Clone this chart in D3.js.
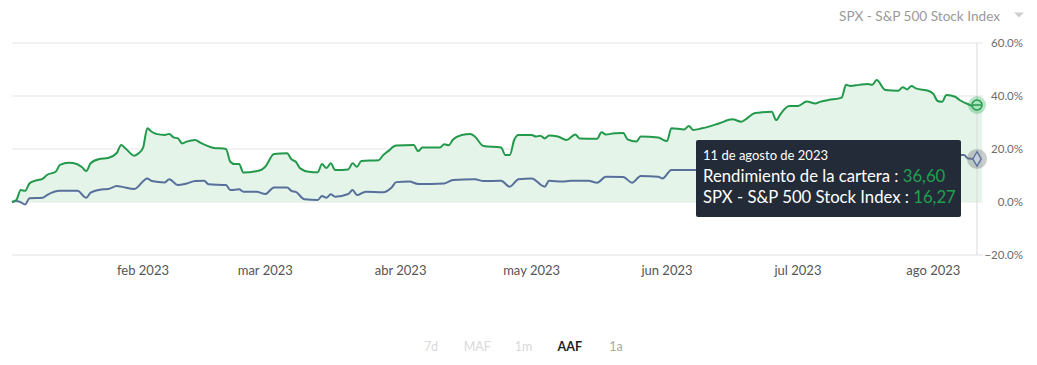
<!DOCTYPE html>
<html lang="es">
<head>
<meta charset="utf-8">
<script src="https://cdn.jsdelivr.net/npm/d3@7"></script>
<style>
    html, body { margin: 0; padding: 0; background: #fff; }
    #chart { width: 1037px; height: 365px; }
    text { font-family: Lato, 'Open Sans', sans-serif; }
</style>
</head>
<body>
<div id="chart"></div>
<script>
// rendimiento de la cartera (% desde el inicio del año)
const portDates = ['2023-01-02','2023-01-03','2023-01-04','2023-01-05','2023-01-06','2023-01-07','2023-01-09','2023-01-10','2023-01-12','2023-01-13',
    '2023-01-15','2023-01-16','2023-01-18','2023-01-19','2023-01-20','2023-01-22','2023-01-24','2023-01-26','2023-01-27','2023-01-28',
    '2023-01-30','2023-01-31','2023-02-01','2023-02-02','2023-02-03','2023-02-04','2023-02-06','2023-02-07','2023-02-08','2023-02-09',
    '2023-02-10','2023-02-11','2023-02-13','2023-02-14','2023-02-17','2023-02-20','2023-02-21','2023-02-22','2023-02-23','2023-02-24',
    '2023-02-28','2023-03-01','2023-03-03','2023-03-06','2023-03-07','2023-03-08','2023-03-09','2023-03-11','2023-03-13','2023-03-14',
    '2023-03-15','2023-03-16','2023-03-17','2023-03-20','2023-03-21','2023-03-22','2023-03-23','2023-03-27','2023-03-28','2023-03-29',
    '2023-03-31','2023-04-04','2023-04-05','2023-04-06','2023-04-10','2023-04-11','2023-04-12','2023-04-13','2023-04-15','2023-04-17',
    '2023-04-18','2023-04-20','2023-04-24','2023-04-25','2023-04-26','2023-04-27','2023-04-28','2023-05-01','2023-05-02','2023-05-03',
    '2023-05-04','2023-05-05','2023-05-07','2023-05-09','2023-05-11','2023-05-12','2023-05-16','2023-05-17','2023-05-18','2023-05-20',
    '2023-05-22','2023-05-23','2023-05-25','2023-05-26','2023-05-30','2023-06-01','2023-06-02','2023-06-05','2023-06-06','2023-06-07',
    '2023-06-09','2023-06-13','2023-06-16','2023-06-18','2023-06-19','2023-06-21','2023-06-22','2023-06-25','2023-06-26','2023-06-27',
    '2023-06-29','2023-07-01','2023-07-03','2023-07-05','2023-07-06','2023-07-08','2023-07-11','2023-07-12','2023-07-13','2023-07-15',
    '2023-07-17','2023-07-18','2023-07-19','2023-07-21','2023-07-24','2023-07-25','2023-07-26','2023-07-27','2023-07-28','2023-07-31',
    '2023-08-01','2023-08-02','2023-08-03','2023-08-04','2023-08-06','2023-08-07','2023-08-09','2023-08-10','2023-08-11'];
const portValues = [0, 0.8, 4.5, 4.2, 7.0, 7.9, 8.7, 10.2, 11.4, 14.0,
    14.8, 14.7, 13.2, 11.7, 14.6, 16.2, 16.6, 18.5, 21.5, 20.2,
    17.5, 18.4, 20.4, 27.8, 26.5, 25.7, 25.3, 25.7, 24.4, 24.0,
    22.1, 22.8, 23.4, 22.5, 20.5, 20.0, 15.2, 14.3, 14.3, 11.1,
    12.1, 13.3, 18.1, 18.4, 16.1, 15.2, 12.7, 11.4, 11.2, 14.3,
    12.8, 14.6, 12.1, 12.3, 14.6, 13.3, 15.5, 15.8, 17.7, 19.0,
    21.3, 21.5, 19.2, 20.6, 20.6, 21.8, 21.4, 23.6, 25.3, 25.7,
    24.7, 21.1, 20.6, 17.7, 17.7, 23.4, 25.3, 25.3, 24.7, 25.0,
    24.0, 25.1, 24.7, 23.4, 25.5, 24.0, 23.9, 26.3, 25.5, 25.9,
    26.0, 23.6, 22.8, 24.7, 24.3, 23.0, 27.8, 27.4, 28.7, 27.2,
    27.8, 29.7, 31.2, 30.3, 31.2, 33.5, 33.7, 34.1, 30.9, 33.2,
    36.2, 36.2, 37.9, 37.2, 37.8, 38.5, 39.4, 44.2, 43.8, 44.2,
    44.5, 44.2, 46.0, 42.3, 42.0, 43.3, 42.5, 43.8, 42.9, 41.9,
    40.8, 38.1, 37.8, 40.4, 39.7, 38.5, 36.9, 36.3, 36.60];

// SPX - S&P 500 Stock Index (% desde el inicio del año)
const spxDates = ['2023-01-02','2023-01-03','2023-01-04','2023-01-05','2023-01-06','2023-01-09','2023-01-10','2023-01-13','2023-01-17','2023-01-19',
    '2023-01-20','2023-01-23','2023-01-24','2023-01-26','2023-01-27','2023-01-30','2023-02-02','2023-02-03','2023-02-06','2023-02-07',
    '2023-02-09','2023-02-11','2023-02-13','2023-02-15','2023-02-16','2023-02-20','2023-02-21','2023-02-23','2023-02-24','2023-02-27',
    '2023-03-01','2023-03-03','2023-03-06','2023-03-07','2023-03-08','2023-03-10','2023-03-13','2023-03-14','2023-03-15','2023-03-16',
    '2023-03-17','2023-03-20','2023-03-21','2023-03-22','2023-03-24','2023-03-28','2023-03-30','2023-03-31','2023-04-03','2023-04-05',
    '2023-04-11','2023-04-13','2023-04-18','2023-04-20','2023-04-24','2023-04-26','2023-04-28','2023-05-01','2023-05-04','2023-05-05',
    '2023-05-08','2023-05-10','2023-05-14','2023-05-16','2023-05-18','2023-05-22','2023-05-24','2023-05-26','2023-05-30','2023-05-31',
    '2023-06-02','2023-06-07','2023-06-09','2023-06-13','2023-06-15','2023-06-16','2023-06-20','2023-06-23','2023-06-26','2023-06-27',
    '2023-06-30','2023-07-03','2023-07-07','2023-07-11','2023-07-13','2023-07-19','2023-07-21','2023-07-25','2023-07-27','2023-07-31',
    '2023-08-02','2023-08-04','2023-08-07','2023-08-08','2023-08-09','2023-08-11'];
const spxValues = [0, 0.4, -0.1, -0.9, 1.4, 1.6, 2.6, 4.2, 4.2, 1.6,
    3.5, 4.8, 4.9, 6.0, 5.8, 4.9, 8.9, 7.9, 7.4, 8.6,
    6.4, 7.0, 7.9, 8.0, 6.7, 6.4, 4.5, 4.8, 3.9, 3.9,
    3.0, 5.5, 5.5, 4.2, 3.8, 1.0, 0.75, 2.3, 1.6, 2.9,
    2.0, 3.0, 4.5, 2.6, 3.9, 3.7, 5.6, 7.5, 7.7, 6.8,
    7.0, 8.3, 8.6, 7.9, 8.0, 5.8, 8.6, 8.9, 5.8, 8.0,
    7.7, 8.0, 8.0, 7.3, 9.5, 9.4, 7.3, 9.8, 9.5, 8.9,
    12.1, 12.1, 12.0, 13.8, 15.3, 14.9, 14.3, 13.3, 12.7, 14.0,
    15.9, 16.1, 14.6, 15.6, 17.5, 18.9, 18.1, 19.0, 18.2, 19.5,
    17.5, 16.6, 17.7, 17.7, 16.4, 16.27];

// ejes
const startDate = '2023-01-02';
const endDate = '2023-08-11';
const monthTicks = ['2023-02-01','2023-03-01','2023-04-01','2023-05-01','2023-06-01','2023-07-01','2023-08-01'];
const monthLabels = ['feb 2023','mar 2023','abr 2023','may 2023','jun 2023','jul 2023','ago 2023'];
const yTicks = [-20, 0, 20, 40, 60];

// botones de periodo
const rangeLabels = ['7d', 'MAF', '1m', 'AAF', '1a'];
const activeRange = 'AAF';

// tooltip
const tooltipDate = '11 de agosto de 2023';
const seriesNames = ['Rendimiento de la cartera', 'SPX - S&P 500 Stock Index'];

const color = {
    port: '#23994c',
    spx: '#57709b',
    fill: '#e4f4e9',
    grid: '#e5e5e5',
    tooltip: '#232b38',
    value: '#22a04f'
};

const parse = d3.timeParse('%Y-%m-%d');
const fmtPct = d3.format('.1f');
const fmtEs = v => d3.format('.2f')(v).replace('.', ',');

const portData = portDates.map((d, i) => ({ date: parse(d), value: portValues[i] }));
const spxData = spxDates.map((d, i) => ({ date: parse(d), value: spxValues[i] }));

const svgWidth = 1037, svgHeight = 365;
const plot = { left: 12, right: 977, gridRight: 983, top: 43, bottom: 255 };

const svg = d3.select('#chart')
    .append('svg')
    .attr('width', svgWidth)
    .attr('height', svgHeight);

const x = d3.scaleTime()
    .domain([parse(startDate), parse(endDate)])
    .range([plot.left, plot.right]);

const y = d3.scaleLinear()
    .domain([-20, 60])
    .range([plot.bottom, plot.top]);

//grid lines + y labels on the right
svg.append('g').selectAll('line')
    .data(yTicks).enter()
    .append('line')
    .attr('x1', plot.left)
    .attr('x2', plot.gridRight)
    .attr('y1', d => y(d))
    .attr('y2', d => y(d))
    .style('stroke', d => d === -20 ? '#dcdfe4' : color.grid)
    .style('stroke-width', 1);

svg.append('g').selectAll('text')
    .data(yTicks).enter()
    .append('text')
    .attr('x', 1023)
    .attr('y', d => y(d))
    .attr('dy', '0.35em')
    .style('text-anchor', 'end')
    .style('font-size', '11.5px')
    .style('fill', '#6b6b6b')
    .text(d => fmtPct(d) + '%');

//month labels
svg.append('g').selectAll('text')
    .data(monthTicks).enter()
    .append('text')
    .attr('x', d => x(parse(d)))
    .attr('y', 274.5)
    .style('text-anchor', 'middle')
    .style('font-size', '13px')
    .style('fill', '#555')
    .text((d, i) => monthLabels[i]);

//area under the portfolio line, runs a few px past the last point like the original
const last = portData.length - 1;
const area = d3.area()
    .x((d, i) => x(d.date) + (i === last ? 5 : 0))
    .y0(y(0))
    .y1(d => y(d.value))
    .curve(d3.curveMonotoneX);

svg.append('path')
    .datum(portData)
    .attr('d', area)
    .style('fill', color.fill);

const line = d3.line()
    .x(d => x(d.date))
    .y(d => y(d.value))
    .curve(d3.curveMonotoneX);

//crosshair at the hovered day
const hoverX = x(parse(endDate));
svg.append('line')
    .attr('x1', hoverX).attr('x2', hoverX)
    .attr('y1', plot.top).attr('y2', plot.bottom)
    .style('stroke', '#d6d9de')
    .style('stroke-width', 1);

svg.append('path')
    .datum(spxData)
    .attr('d', line)
    .style('fill', 'none')
    .style('stroke', color.spx)
    .style('stroke-width', 2);

svg.append('path')
    .datum(portData)
    .attr('d', line)
    .style('fill', 'none')
    .style('stroke', color.port)
    .style('stroke-width', 2);

//hover markers
const portEnd = portData[last];
const spxEnd = spxData[spxData.length - 1];

svg.append('circle')
    .attr('cx', x(portEnd.date)).attr('cy', y(portEnd.value))
    .attr('r', 9)
    .style('fill', 'rgba(40,170,85,0.32)');
svg.append('circle')
    .attr('cx', x(portEnd.date)).attr('cy', y(portEnd.value))
    .attr('r', 5)
    .style('fill', '#a8e2bb')
    .style('stroke', color.port)
    .style('stroke-width', 1.5);
svg.append('line')
    .attr('x1', x(portEnd.date) - 4).attr('x2', x(portEnd.date) + 4)
    .attr('y1', y(portEnd.value)).attr('y2', y(portEnd.value))
    .style('stroke', color.port)
    .style('stroke-width', 1.5);

svg.append('circle')
    .attr('cx', x(spxEnd.date)).attr('cy', y(spxEnd.value))
    .attr('r', 10)
    .style('fill', 'rgba(120,120,125,0.38)');
svg.append('path')
    .attr('transform', `translate(${x(spxEnd.date)}, ${y(spxEnd.value)})`)
    .attr('d', d3.symbol().type(d3.symbolDiamond).size(60)())
    .style('fill', '#c5cedd')
    .style('stroke', color.spx)
    .style('stroke-width', 1.3);

//tooltip
const tip = svg.append('g').attr('transform', 'translate(696, 140)');
tip.append('rect')
    .attr('width', 265)
    .attr('height', 77)
    .attr('rx', 2)
    .style('fill', color.tooltip);
tip.append('text')
    .attr('x', 7).attr('y', 20)
    .style('font-size', '13px')
    .style('fill', '#fff')
    .text(tooltipDate);

const tipRows = [portEnd.value, spxEnd.value];
tipRows.forEach((v, i) => {
    const t = tip.append('text')
        .attr('x', 7)
        .attr('y', 41.7 + i * 21.6)
        .style('font-size', '16.7px')
        .style('fill', '#fff');
    t.append('tspan').text(seriesNames[i] + ' : ');
    t.append('tspan').style('fill', color.value).text(fmtEs(v));
});

//series selector top right
svg.append('text')
    .attr('x', 1000).attr('y', 20.7)
    .style('text-anchor', 'end')
    .style('font-size', '13.6px')
    .style('fill', '#9a9a9a')
    .text(seriesNames[1]);
svg.append('path')
    .attr('d', 'M1014,12.5 L1024,12.5 L1019,17.5 Z')
    .style('fill', '#cfcfcf');

//period buttons
const bx = d3.scalePoint()
    .domain(rangeLabels)
    .range([431, 616]);

svg.append('g').selectAll('text')
    .data(rangeLabels).enter()
    .append('text')
    .attr('x', d => bx(d))
    .attr('y', 351)
    .style('text-anchor', 'middle')
    .style('font-size', '12.5px')
    .style('font-weight', d => d === activeRange ? 700 : 400)
    .style('fill', d => d === activeRange ? '#1e1e1e' : (d === '1a' ? '#a9a9a9' : '#d9d9d9'))
    .text(d => d);
</script>
</body>
</html>
